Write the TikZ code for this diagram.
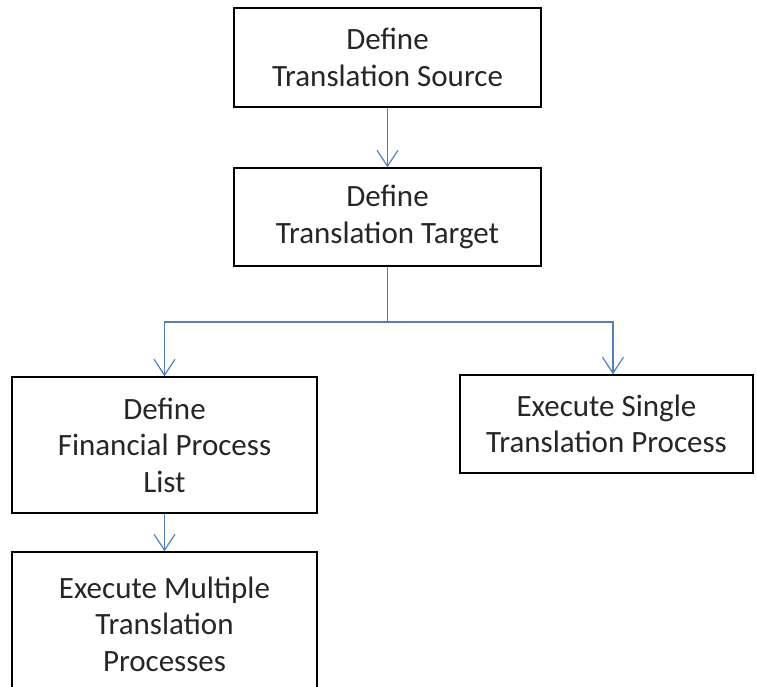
\documentclass[tikz,border=0pt]{standalone}
\usepackage{fontspec}
\setmainfont{Carlito}
\usetikzlibrary{arrows.meta}
\definecolor{flowblue}{RGB}{79,129,189}
\begin{document}
\begin{tikzpicture}[x=1pt,y=-1pt,
  stepbox/.style={draw=black, line width=1.4pt, rectangle, align=center,
    text=black!85, inner sep=0pt,
    font=\fontsize{31}{36.5}\selectfont},
  flow/.style={draw=flowblue, line width=1.3pt,
    -{Straight Barb[length=16pt,width=21pt,line width=1.2pt]}},
  link/.style={draw=flowblue, line width=1.6pt}]
  \useasboundingbox (0,0) rectangle (757,687);
  \clip (0,0) rectangle (757,687);

  \node[stepbox, minimum width=307pt, minimum height=99pt] (src) at (387.5,57.5)
    {Define\\Translation Source};
  \node[stepbox, minimum width=307pt, minimum height=98pt] (tgt) at (387.5,217)
    {Define\\Translation Target};
  \node[stepbox, minimum width=305pt, minimum height=136pt] (list) at (164.5,445)
    {Define\\Financial Process\\List};
  \node[stepbox, minimum width=293pt, minimum height=98pt] (single) at (606.5,424)
    {Execute Single\\Translation Process};
  \node[stepbox, minimum width=305pt, minimum height=144pt] (multi) at (164.5,624)
    {Execute Multiple\\Translation\\Processes};

  \coordinate (fork) at (387.5,322);

  \draw[flow] (src) -- (tgt);
  \draw[link] (tgt) -- (fork);
  \draw[flow] (fork) -| (list);
  \draw[flow] (fork) -| ([xshift=6.5pt]single.north);
  \draw[flow] (list) -- (multi);
\end{tikzpicture}
\end{document}
